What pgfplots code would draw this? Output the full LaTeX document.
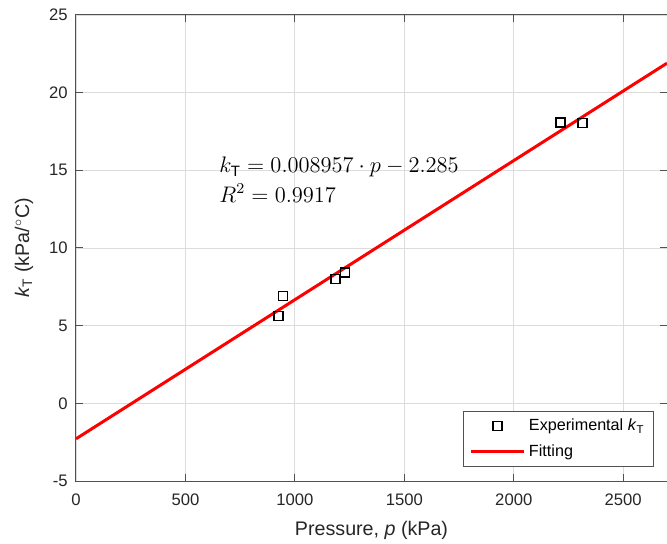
\documentclass[border=0pt]{standalone}
\usepackage{pgfplots}
\pgfplotsset{compat=1.18}
\usepackage{fontspec}
\setmainfont{Liberation Sans}
\definecolor{axgray}{HTML}{262626}
\definecolor{gridgray}{HTML}{DCDCDC}
\pgfplotsset{
  markleg/.style={legend image code/.code={\path[draw=none] (0,0) -- (32pt,0); \draw[##1] plot[only marks] coordinates {(16pt,0)};}},
  lineleg/.style={legend image code/.code={\draw[##1] (0,0) -- (32pt,0);}},
}
\begin{document}
\begin{tikzpicture}
\begin{axis}[
  scale only axis,
  width=354.6pt, height=279.6pt,
  xmin=0, xmax=2700, ymin=-5, ymax=25,
  xtick={0,500,...,2500}, ytick={-5,0,...,25},
  grid=major,
  major grid style={gridgray, line width=0.5pt},
  axis line style={axgray!80, line width=0.6pt},
  tick style={axgray!80, line width=0.6pt},
  tick align=inside,
  major tick length=4pt,
  /pgf/number format/assume math mode=true,
  /pgf/number format/1000 sep={},
  tick label style={font=\fontsize{10}{12}\selectfont, text=axgray},
  xticklabel style={yshift=-4pt},
  yticklabel style={xshift=-1.5pt},
  xlabel={Pressure, \textit{p} (kPa)},
  ylabel={\textit{k}$_{\mathrm{T}}$ (kPa/$^\circ$C)},
  label style={font=\fontsize{11.8}{13}\selectfont, text=axgray},
  xlabel style={at={(axis description cs:0.5,-0.105)}, anchor=center},
  ylabel style={at={(axis description cs:-0.088,0.5)}, anchor=center},
  legend style={at={(rel axis cs:0.978,0.03)}, anchor=south east,
    font=\fontsize{9.7}{11.5}\selectfont, draw=axgray!80, line width=0.6pt,
    inner xsep=3.5pt, inner ysep=2.5pt, row sep=3pt},
  legend cell align=left,
  clip=true,
]
\addplot[only marks, mark=square, mark size=2.7pt, mark options={line width=0.9pt, draw=black}, markleg]
  coordinates {(924,5.62) (945,6.91) (1186,8.0) (1230,8.43) (2214,18.09) (2314,18.05)};
\addlegendentry{Experimental \textit{k}$_{\mathrm{T}}$}
\addplot[red, line width=1.8pt, lineleg]
  coordinates {(0,-2.285) (2700,21.899)};
\addlegendentry{Fitting}
\node[anchor=base west, inner sep=0pt, scale=1.125, font=\fontsize{12}{14}\selectfont]
  at (axis cs:653,14.83) {$k_{\mathrm{T}} = 0.008957\cdot p - 2.285$};
\node[anchor=base west, inner sep=0pt, scale=1.125, font=\fontsize{12}{14}\selectfont]
  at (axis cs:653,12.96) {$R^2 = 0.9917$};
\end{axis}
\pgfresetboundingbox
\path ([xshift=-45.6pt,yshift=-37.2pt]current axis.south west) rectangle ([yshift=9pt]current axis.north east);
\end{tikzpicture}
\end{document}
